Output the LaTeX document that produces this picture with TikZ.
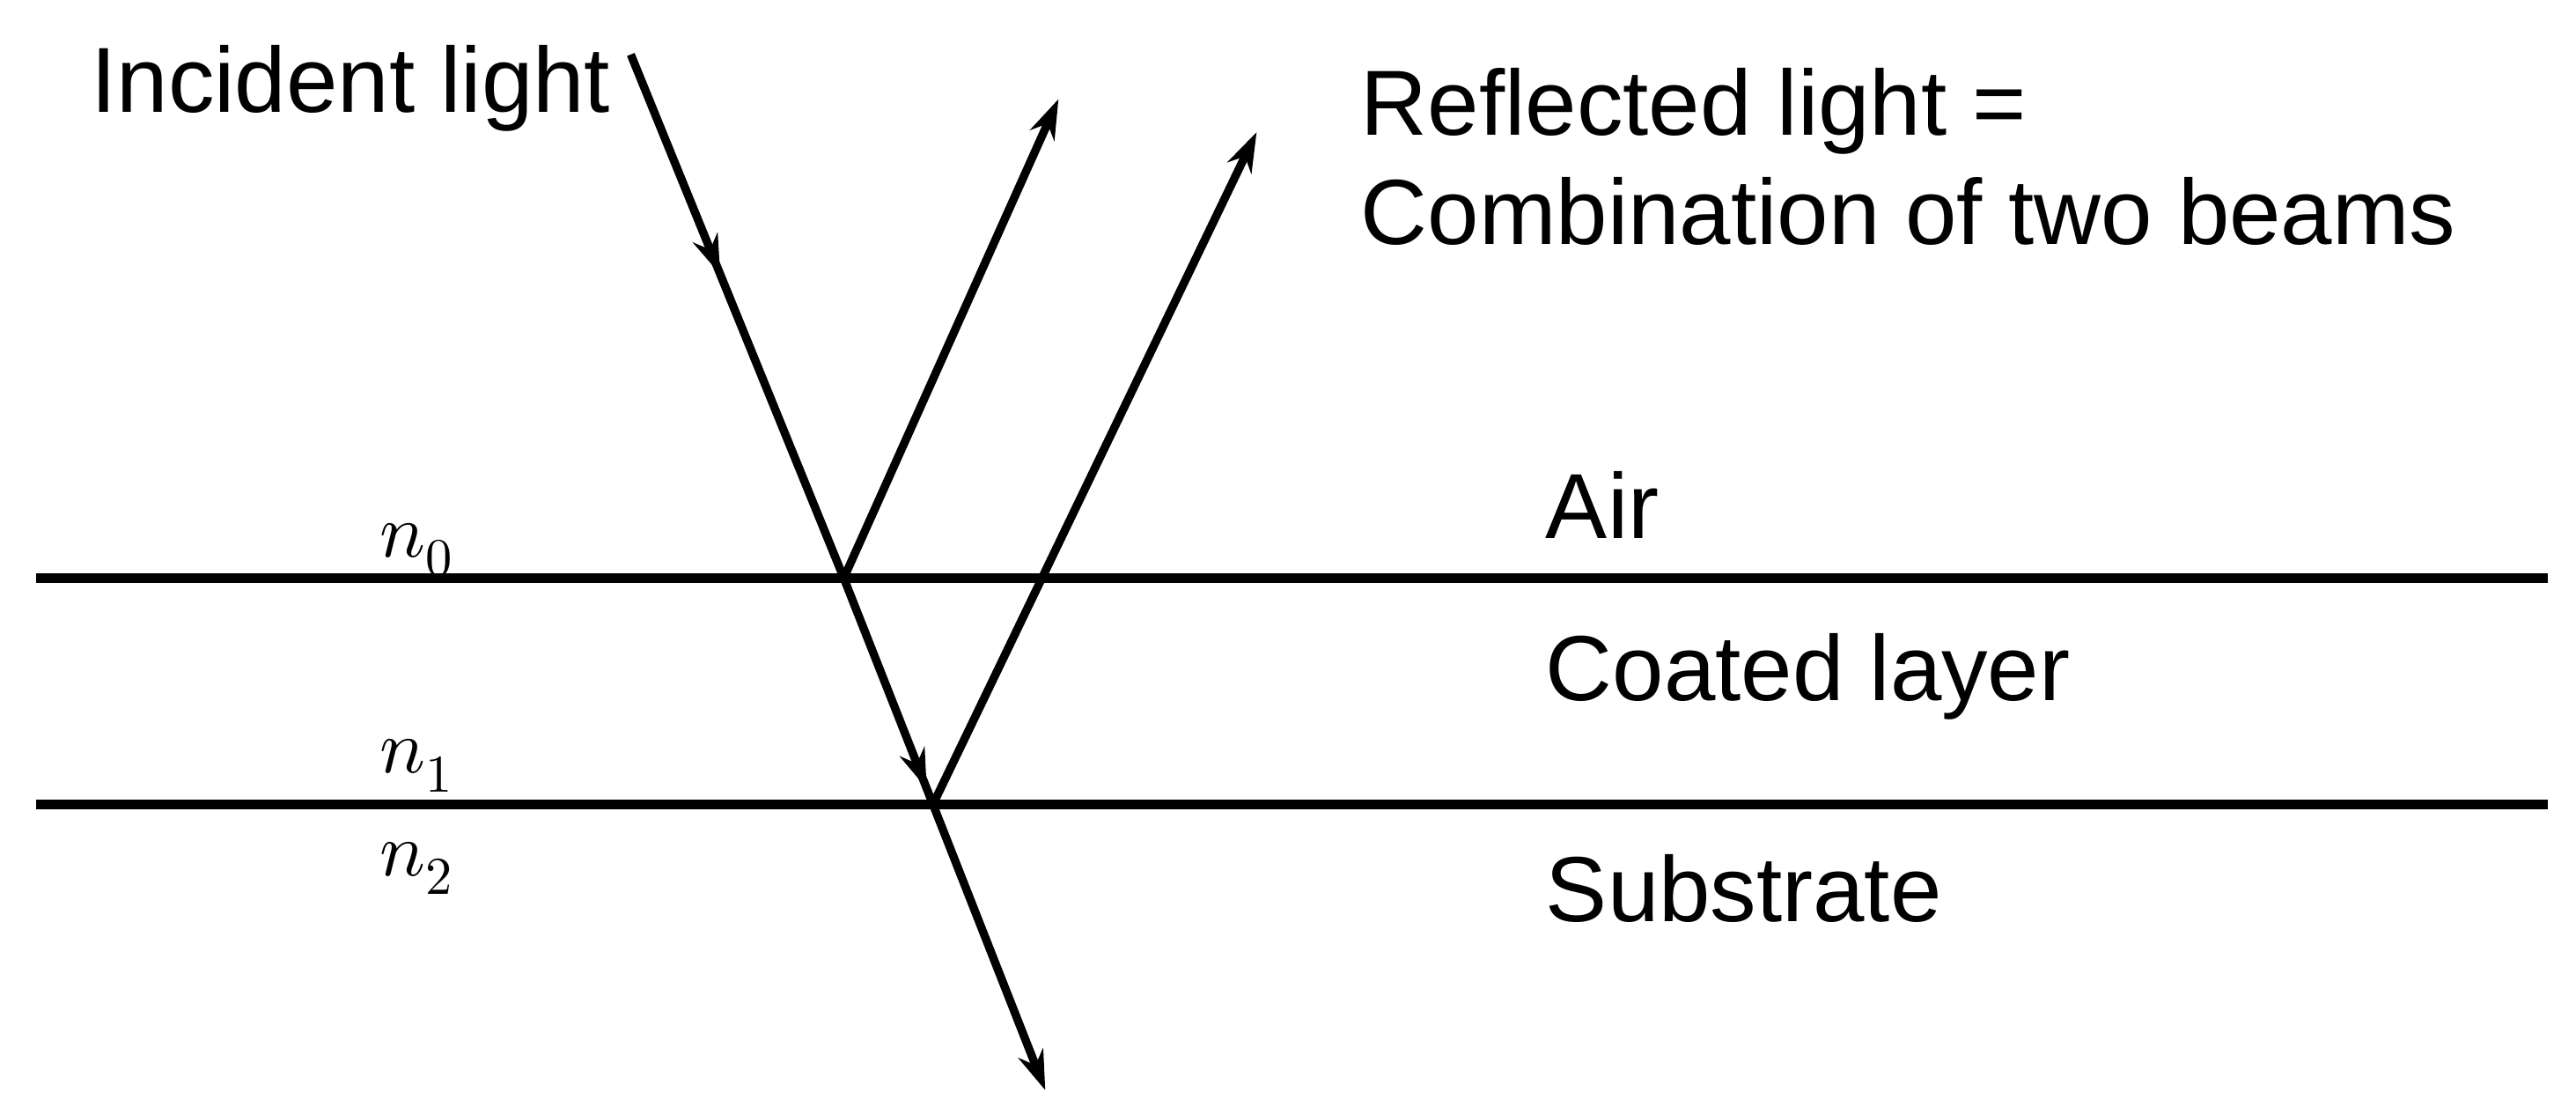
\documentclass[tikz,border=0pt]{standalone}
\usepackage{unicode-math}
\setmainfont{Liberation Sans}
\setmathfont{Latin Modern Math}
\usetikzlibrary{arrows.meta,decorations.markings}
\begin{document}
\begin{tikzpicture}[x=1pt,y=-1pt,
  lbl/.style={font=\fontsize{56}{66}\selectfont,inner sep=0pt},
  nl/.style={font=\fontsize{46}{56}\selectfont,inner sep=0pt},
  ray/.style={line width=5pt},
  tip/.style={-{Stealth[length=24pt,width=16pt]}},
  midtip/.style={decoration={markings,mark=at position #1 with {\arrow{Stealth[length=24pt,width=16pt]}}},postaction={decorate}}]
\useasboundingbox (0,0) rectangle (1560,674.4);
\coordinate (L1a) at (22,350); \coordinate (L1b) at (1543,350);
\coordinate (L2a) at (22,487); \coordinate (L2b) at (1543,487);
\draw[line width=6pt] (L1a) -- (L1b);
\draw[line width=6pt] (L2a) -- (L2b);
\coordinate (S) at (382,33);
\coordinate (P) at (511,350);
\coordinate (Q) at (565,487);
\coordinate (R1) at (641,60);
\coordinate (R2) at (761,80);
\coordinate (T) at (633,660);
\draw[ray,midtip=0.42] (S) -- (P);
\draw[ray,midtip=0.93] (P) -- (Q);
\draw[ray,tip] (P) -- (R1);
\draw[ray,tip] (Q) -- (R2);
\draw[ray,tip] (Q) -- (T);
\node[lbl,anchor=base west] (inc) at (55,68) {Incident light};
\node[lbl,anchor=base west] (ref) at (824,82) {Reflected light =};
\node[lbl,anchor=base west] (ref2) at (824,148) {Combination of two beams};
\node[lbl,anchor=base west] (air) at (936,326) {Air};
\node[lbl,anchor=base west] (coat) at (936,424) {Coated layer};
\node[lbl,anchor=base west] (sub) at (936,558) {Substrate};
\node[nl,anchor=base west] (n0) at (230,337) {$n_0$};
\node[nl,anchor=base west] (n1) at (230,468) {$n_1$};
\node[nl,anchor=base west] (n2) at (230,530) {$n_2$};
\end{tikzpicture}
\end{document}
